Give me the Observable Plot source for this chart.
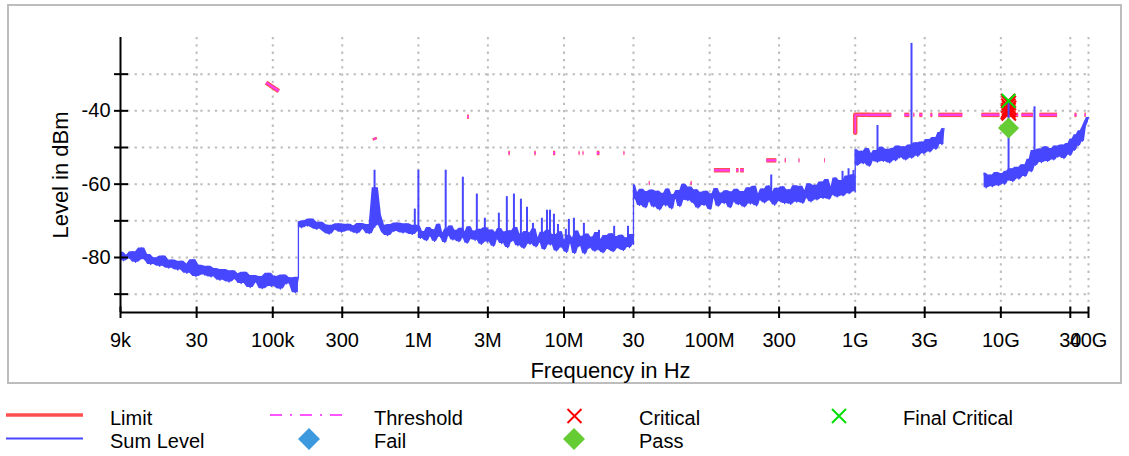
<!DOCTYPE html>
<html><head><meta charset="utf-8">
<script src="https://cdn.jsdelivr.net/npm/d3@7"></script>
<script src="https://cdn.jsdelivr.net/npm/@observablehq/plot@0.6"></script>
<style>
body{margin:0;background:#fff;}
#wrap{position:relative;width:1129px;height:456px;overflow:hidden;font-family:"Liberation Sans",Arial,sans-serif;}
#frame{position:absolute;left:7px;top:4px;width:1115px;height:380px;border:2px solid #bdbdbd;box-sizing:border-box;}
#chart{position:absolute;left:0;top:0;}
#legend{position:absolute;left:0;top:390px;}
</style></head><body>
<div id="wrap"><div id="frame"></div><div id="chart"></div><div id="legend"></div></div>
<script>
// ---------- axes ----------
const xTicks = [9e3,3e4,1e5,3e5,1e6,3e6,1e7,3e7,1e8,3e8,1e9,3e9,1e10,3e10,4e10];
const xTickLabels = ["9k","30","100k","300","1M","3M","10M","30","100M","300","1G","3G","10G","30","40G"];
const xGrid = [3e4,1e5,3e5,1e6,3e6,1e7,3e7,1e8,3e8,1e9,3e9,1e10,3e10,4e10];
const yTicks = [-30,-40,-50,-60,-70,-80,-90];
const yLabelTicks = [-40,-60,-80];

// ---------- Sum Level trace (sweep segments) ----------
const segRanges = [[9e3,150e3],[150e3,1e6],[1e6,30e6],[30e6,1e9],[1e9,4.07e9],[7.68e9,40e9]];
const segPiece = [0,0,0,0,0,1];
const seg1Levels = [-78.6,-80.9,-79.4,-80.2,-78.4,-81.3,-79.1,-77.4,-80.6,-79.2,
-81.9,-80.1,-80.8,-82.4,-79.6,-81.5,-82.9,-80.7,-81.8,-83.4,
-81.0,-82.6,-84.3,-81.8,-80.6,-85.2,-82.1,-83.6,-84.8,-82.4,
-85.3,-83.0,-84.1,-86.2,-83.3,-85.0,-86.7,-83.6,-85.9,-84.4,
-87.1,-84.0,-86.3,-88.2,-84.9,-86.8,-85.2,-88.5,-85.6,-84.3,
-87.9,-85.1,-86.4,-88.6,-84.8,-87.2,-85.5,-86.9,-89.6,-85.4];
const seg2aLevels = [-70.3,-71.9,-70.0,-71.4,-69.5,-71.8,-72.3,-70.4,-71.1,-73.0,
-73.6,-71.2,-72.4,-70.8,-73.1,-71.7,-70.9,-72.8,-71.4,-73.4,
-70.7,-72.2,-71.0,-73.5,-71.6,-61.0,-68.5,-71.2,-73.1,-74.0,
-71.0,-72.9,-70.6,-72.2,-73.3,-70.8,-72.6,-73.7,-71.2,-72.8];
const seg2bLevels = [-71.5,-74.8,-72.9,-73.6,-75.4,-71.8,-74.2,-72.4,-75.6,-73.1,
-70.9,-74.5,-73.3,-75.9,-72.2,-74.0,-71.4,-75.2,-73.8,-72.6,
-75.7,-72.0,-74.6,-73.0,-76.1,-71.6,-74.9,-72.8,-75.3,-73.5,
-72.3,-76.4,-73.9,-71.9,-75.8,-74.3,-72.5,-76.9,-73.2,-75.0,
-72.1,-76.2,-74.4,-73.0,-77.3,-72.7,-75.6,-74.1,-71.8,-76.8,
-73.6,-75.2,-77.5,-72.9,-74.8,-76.4,-73.3,-72.2,-77.1,-74.6,
-75.9,-73.1,-77.8,-74.2,-72.6,-76.6,-75.0,-73.7,-78.2,-74.5,
-73.0,-77.4,-75.3,-78.6,-73.9,-76.1,-74.7,-78.9,-72.8,-77.0,
-75.6,-74.2,-79.0,-73.6,-77.5,-76.0,-74.4,-78.3,-73.2,-77.9,
-75.1,-78.7,-74.0,-76.5,-77.8,-73.5,-78.4,-75.4,-74.3,-77.6,
-73.9,-78.1,-75.5,-74.6,-77.3,-73.7,-76.4];
const seg3Levels = [-60.2,-64.1,-62.3,-65.8,-61.4,-63.5,-66.4,-62.0,-64.7,-61.6,-66.2,
-63.0,-61.9,-67.0,-64.2,-62.5,-65.9,-61.3,-64.6,-66.7,-62.8,-63.9,-61.7,-66.1,-64.4,
-60.0,-62.9,-64.5,-60.8,-63.4,-65.2,
-61.5,-66.5,-63.7,-62.2,-65.8,-61.9,-64.3,-66.9,-62.6,-63.8,-61.2,-66.0,-64.9,-62.4,-65.3,-61.8,-63.6,-66.4,-62.1,-64.8,-61.4,-65.6,-63.3,-62.0,-66.2,
-62.9,-61.0,-65.4,-63.5,-60.6,-65.9,-62.7,-64.3,-61.3,-65.1,-63.8,-60.5,-64.6,-62.2,-65.7,-61.1,-63.9,-64.8,-60.7,-65.3,-62.4,-61.5,-65.5,-63.1,-60.4,
-64.9,-62.0,-60.6,-65.2,-61.8,-63.7,-59.9,-64.8,-62.5,-60.3,-64.3,-61.2,-59.4,-63.9,-61.9,-58.7,-64.1,-60.8,-62.9,-58.3,-63.5,-60.2,-59.0,-63.2,-61.4,-57.8,-62.6,-59.5,-57.4,-62.1];
const seg4Levels = [-50.6,-54.9,-52.3,-51.0,-54.4,-52.8,-50.3,-55.1,-51.7,-53.6,
-50.8,-54.0,-52.5,-49.9,-53.8,-51.4,-50.5,-54.2,-52.1,-50.2,
-53.6,-49.6,-52.8,-51.3,-49.8,-53.4,-50.7,-49.3,-52.9,-51.0,
-48.7,-52.4,-50.2,-48.5,-51.7,-49.6,-47.8,-51.2,-48.9,-47.3,
-50.5,-47.6,-45.9,-49.2,-44.8];
const seg5Levels = [-57.0,-61.0,-58.6,-57.5,-60.7,-58.2,-56.8,-60.4,-59.0,-57.1,
-60.0,-56.5,-58.9,-55.8,-59.3,-57.0,-55.4,-58.6,-56.2,-54.7,
-57.9,-55.3,-53.2,-56.6,-50.8,-54.9,-52.2,-50.4,-54.1,-51.5,
-49.8,-53.8,-51.2,-50.3,-53.4,-49.6,-52.6,-51.0,-49.3,-53.0,
-50.4,-48.9,-52.1,-47.7,-50.8,-46.5,-49.5,-45.4,-48.3,-44.3,-43.0,-41.8];
const segLevels = [seg1Levels, seg2aLevels, seg2bLevels, seg3Levels, seg4Levels, seg5Levels];

// narrow spurs on the trace
const spikeFreqs = [500e3,0.945e6,1.0e6,1.54e6,2.02e6,2.52e6,2.86e6,3.57e6,4.05e6,4.53e6,5.06e6,5.57e6,6.12e6,7.05e6,7.64e6,8.01e6,8.53e6,9.09e6,10.3e6,10.8e6,11.7e6,13.7e6,17.4e6,22.1e6,27.5e6,265e6,818e6,900e6,973e6,1.422e9,2.435e9,11.3e9,17.03e9];
const spikePeaks = [-56.2,-66.8,-56.2,-56.2,-58.1,-62.7,-69.3,-67.9,-63.4,-62.7,-64.1,-66.3,-70.7,-69.3,-67.1,-67.1,-68.2,-71.0,-72.3,-69.6,-69.3,-70.7,-72.6,-71.5,-71.5,-57.5,-56.5,-55.8,-56.3,-44.0,-21.6,-37.0,-38.9];
const spikeBases = [-72,-72,-73,-73.5,-73.5,-74,-74,-74.5,-74.5,-75,-75,-75,-75,-75.5,-75.5,-75.5,-75.5,-76,-76,-76,-76,-76.5,-76.5,-76.5,-76.5,-63,-62,-62,-62,-52.5,-51,-57.5,-52.5];

// ---------- Limit / Threshold fragments ----------
const limitFreqs = [1e9,1e9,1.229e9];
const limitLevels = [-46,-41.1,-41.1];
const thrF0 = [90e3,498e3,2.16e6,4.15e6,6.25e6,8.4e6,12.6e6,13.4e6,16.8e6,25.6e6,38.2e6,74e6,107e6,152e6,162e6,245e6,328e6,408e6,612e6,1.229e9,2.174e9,2.506e9,2.755e9,3.28e9,3.722e9,7.355e9,11.01e9,13.85e9,18.42e9,32.05e9,37.5e9];
const thrF1 = [110e3,505e3,2.22e6,4.25e6,6.4e6,8.7e6,12.8e6,13.6e6,17.5e6,26.0e6,38.8e6,75.5e6,138e6,158e6,172e6,287e6,334e6,414e6,620e6,1.769e9,2.352e9,2.546e9,2.890e9,3.385e9,5.44e9,9.78e9,13.15e9,16.62e9,24.33e9,33.08e9,38.3e9];
const thrL0 = [-32.3,-47.3,-41.6,-51.5,-51.5,-51.5,-51.5,-51.5,-51.5,-51.5,-59.7,-59.7,-56.2,-56.2,-56.2,-53.5,-53.5,-53.5,-53.5,-41.1,-41.1,-41.1,-41.1,-41.1,-41.1,-41.1,-41.1,-41.1,-41.1,-41.1,-41.1];
const thrL1 = [-34.6,-47.9,-41.6,-51.5,-51.5,-51.5,-51.5,-51.5,-51.5,-51.5,-59.7,-59.7,-56.2,-56.2,-56.2,-53.5,-53.5,-53.5,-53.5,-41.1,-41.1,-41.1,-41.1,-41.1,-41.1,-41.1,-41.1,-41.1,-41.1,-41.1,-41.1];

// ---------- markers ----------
const critFreqs = [11.2e9,11.35e9,11.25e9,11.4e9,11.3e9,11.2e9,11.35e9];
const critLevels = [-37.3,-37.9,-38.6,-39.2,-39.8,-40.3,-40.7];
const finalCritFreqs = [11.3e9];
const finalCritLevels = [-37.3];
const passFreqs = [11.3e9];
const passLevels = [-44.7];

const legendNames = ["Limit","Sum Level","Threshold","Fail","Critical","Pass","Final Critical"];

// ---------- build tables ----------
const trace = [];
const band = [];   // local min/max of neighbouring sweep points (display envelope)
segLevels.forEach((lv, s) => {
  const [f0, f1] = segRanges[s];
  lv.forEach((v, i) => {
    const f = f0 * Math.pow(f1 / f0, i / (lv.length - 1));
    trace.push({f, level: v, piece: segPiece[s]});
    const win = lv.slice(Math.max(0, i - 1), i + 2);
    band.push({f, lo: d3.min(win), hi: d3.max(win), seg: s});
  });
});
const spikes = spikeFreqs.map((f, i) => ({f, base: spikeBases[i], peak: spikePeaks[i]}));
const thr = thrF0.map((f0, i) => ({f0, f1: thrF1[i], l0: thrL0[i], l1: thrL1[i]}));
const limit = limitFreqs.map((f, i) => ({f, level: limitLevels[i]}));
const crit = critFreqs.map((f, i) => ({f, level: critLevels[i]}));
const finalCrit = finalCritFreqs.map((f, i) => ({f, level: finalCritLevels[i]}));
const pass = passFreqs.map((f, i) => ({f, level: passLevels[i]}));

const C = {sum: "#4747ff", limit: "#ff5050", thr: "#ff3cf0", crit: "#ff0000", fin: "#00e000", pass: "#66cc33", fail: "#3d99dd", grid: "#bdbdbd"};
const FONT = "'Liberation Sans', Arial, sans-serif";

const chart = Plot.plot({
  width: 1129, height: 390,
  marginLeft: 120, marginRight: 41, marginTop: 37, marginBottom: 78,
  style: {fontFamily: FONT, fontSize: "20px", background: "transparent", color: "#000"},
  x: {type: "log", domain: [9e3, 4e10]},
  y: {domain: [-95, -20]},
  marks: [
    Plot.gridX(xGrid, {stroke: C.grid, strokeOpacity: 1, strokeWidth: 2, strokeDasharray: "2.3,5"}),
    Plot.gridY(yTicks, {stroke: C.grid, strokeOpacity: 1, strokeWidth: 2, strokeDasharray: "2.3,5"}),
    Plot.line(limit, {x: "f", y: "level", stroke: C.limit, strokeWidth: 4.5}),
    Plot.link(thr, {x1: "f0", x2: "f1", y1: "l0", y2: "l1", stroke: C.limit, strokeWidth: 4.5}),
    Plot.link(thr, {x1: "f0", x2: "f1", y1: "l0", y2: "l1", stroke: C.thr, strokeWidth: 2.2}),
    Plot.line(limit, {x: "f", y: "level", stroke: C.thr, strokeWidth: 1.6}),
    Plot.dot(crit, {x: "f", y: "level", symbol: "times", r: 6.5, stroke: C.crit, strokeWidth: 2, fill: "none"}),
    Plot.areaY(band, {x: "f", y1: "lo", y2: "hi", z: "seg", fill: C.sum}),
    Plot.line(trace, {x: "f", y: "level", z: "piece", stroke: C.sum, strokeWidth: 1.3}),
    Plot.ruleX(spikes, {x: "f", y1: "base", y2: "peak", stroke: C.sum, strokeWidth: 2}),
    Plot.dot(finalCrit, {x: "f", y: "level", symbol: "times", r: 6.3, stroke: C.fin, strokeWidth: 2, fill: "none"}),
    Plot.dot(pass, {x: "f", y: "level", symbol: "diamond2", r: 9.5, fill: C.pass, stroke: "none"}),
    Plot.ruleX([9e3], {stroke: "#000", strokeWidth: 2}),
    Plot.ruleY([-95], {stroke: "#000", strokeWidth: 2}),
    Plot.axisX(xTicks, {tickSize: 11.5, dy: -5.5, fill: "none", stroke: "#000", strokeWidth: 2, label: null}),
    Plot.text(xTicks, {x: d => d, text: (d, i) => xTickLabels[i], frameAnchor: "bottom", lineAnchor: "top", textAnchor: "middle", dy: 20, fontSize: 20, fill: "#000"}),
    Plot.axisY(yTicks, {tickSize: 14, dx: 8, fill: "none", stroke: "#000", strokeWidth: 2, label: null}),
    Plot.text(yLabelTicks, {y: d => d, text: d => String(d), frameAnchor: "left", textAnchor: "end", lineAnchor: "middle", dx: -10, fontSize: 20, fill: "#000"}),
    Plot.text(["Frequency in Hz"], {text: d => d, frameAnchor: "bottom", lineAnchor: "middle", textAnchor: "middle", dy: 58, dx: 6, fontSize: 22, fill: "#000"}),
    Plot.text(["Level in dBm"], {text: d => d, frameAnchor: "left", rotate: -90, textAnchor: "middle", lineAnchor: "middle", dx: -60, fontSize: 22, fill: "#000"})
  ]
});
document.getElementById("chart").appendChild(chart);

// ---------- legend ----------
const lg = d3.select("#legend").append("svg").attr("width", 1129).attr("height", 66)
  .style("font-family", FONT).style("font-size", "20px");
const textPos = [[110, 35], [110, 58], [374, 35], [374, 58], [639, 35], [639, 58], [903, 35]];
legendNames.forEach((n, i) => lg.append("text").attr("x", textPos[i][0]).attr("y", textPos[i][1]).attr("fill", "#000").text(n));
lg.append("line").attr("x1", 6).attr("x2", 83).attr("y1", 25).attr("y2", 25).attr("stroke", C.limit).attr("stroke-width", 3.5);
lg.append("line").attr("x1", 6).attr("x2", 83).attr("y1", 48.5).attr("y2", 48.5).attr("stroke", C.sum).attr("stroke-width", 2);
lg.append("line").attr("x1", 270).attr("x2", 349).attr("y1", 25).attr("y2", 25).attr("stroke", "#ff55ff").attr("stroke-width", 2).attr("stroke-dasharray", "12,8,2,8");
const diamond = (cx, cy, h, col) => lg.append("path").attr("d", `M${cx},${cy - h}L${cx + h},${cy}L${cx},${cy + h}L${cx - h},${cy}Z`).attr("fill", col);
const cross = (cx, cy, h, col) => lg.append("path").attr("d", `M${cx - h},${cy - h}L${cx + h},${cy + h}M${cx - h},${cy + h}L${cx + h},${cy - h}`).attr("stroke", col).attr("stroke-width", 2).attr("fill", "none");
diamond(309, 49, 11, C.fail);
cross(574.5, 26, 7, C.crit);
diamond(574, 49, 11, C.pass);
cross(839, 26, 7, C.fin);
</script></body></html>
